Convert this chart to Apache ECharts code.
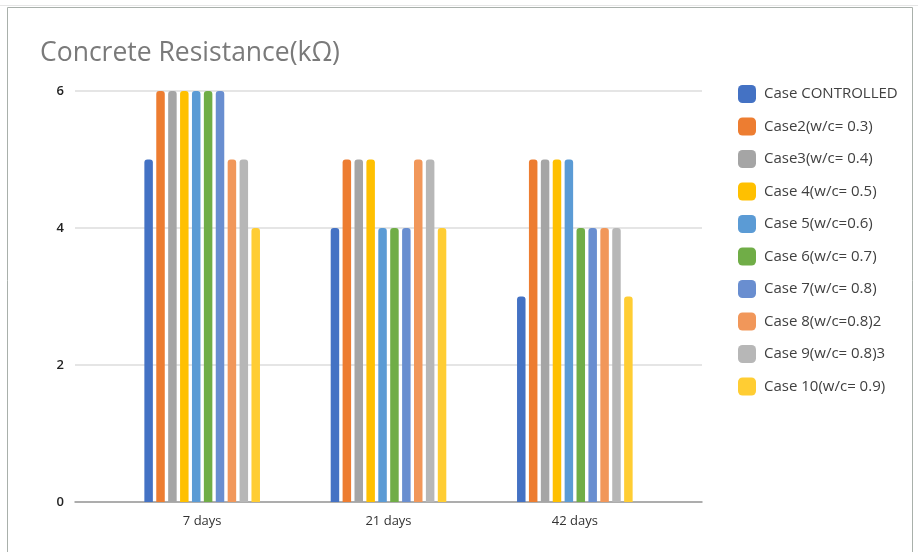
<!DOCTYPE html>
<html>
<head>
<meta charset="utf-8">
<script src="https://cdn.jsdelivr.net/npm/echarts@6/dist/echarts.min.js"></script>
<style>
  html, body { margin: 0; padding: 0; background: #ffffff; }
  #chart { width: 918px; height: 552px; }
</style>
</head>
<body>
<div id="chart"></div>
<script>
// Concrete resistance readings (kΩ) per curing age
const categories = ['7 days', '21 days', '42 days'];
const seriesNames = [
  'Case CONTROLLED',
  'Case2(w/c= 0.3)',
  'Case3(w/c= 0.4)',
  'Case 4(w/c= 0.5)',
  'Case 5(w/c=0.6)',
  'Case 6(w/c= 0.7)',
  'Case 7(w/c= 0.8)',
  'Case 8(w/c=0.8)2',
  'Case 9(w/c= 0.8)3',
  'Case 10(w/c= 0.9)'
];
const caseControlled = [5, 4, 3];
const case2 = [6, 5, 5];
const case3 = [6, 5, 5];
const case4 = [6, 5, 5];
const case5 = [6, 4, 5];
const case6 = [6, 4, 4];
const case7 = [6, 4, 4];
const case8 = [5, 5, 4];
const case9 = [5, 5, 4];
const case10 = [4, 4, 3];
const yTicks = [0, 2, 4, 6];

const seriesValues = [caseControlled, case2, case3, case4, case5, case6, case7, case8, case9, case10];
const palette = ['#4472C4', '#ED7D31', '#A5A5A5', '#FFC000', '#5B9BD5', '#70AD47',
                 '#698ED0', '#F1975A', '#B7B7B7', '#FFCD33'];

const chart = echarts.init(document.getElementById('chart'), null, { renderer: 'canvas' });
const font = '"Open Sans", "Noto Sans", sans-serif';

const option = {
  animation: false,
  color: palette,
  textStyle: { fontFamily: font },
  title: {
    text: 'Concrete Resistance(kΩ)',
    left: 35,
    top: 35,
    textStyle: { fontFamily: font, fontSize: 26.5, fontWeight: 'normal', color: '#7a7a7a' }
  },
  graphic: [
    { type: 'rect', shape: { x: 7.5, y: 7.5, width: 905, height: 560 },
      style: { fill: 'none', stroke: '#a9b0ab', lineWidth: 1 }, silent: true },
    { type: 'line', shape: { x1: 0, y1: 5.5, x2: 918, y2: 5.5 },
      style: { stroke: '#e6e6e6', lineWidth: 1 }, silent: true }
  ],
  legend: {
    orient: 'vertical',
    left: 733,
    top: 80,
    itemWidth: 18,
    itemHeight: 18,
    itemGap: 14.5,
    icon: 'roundRect',
    data: seriesNames,
    textStyle: { fontFamily: font, fontSize: 15, color: '#404040', padding: [0, 0, 0, 3] }
  },
  grid: [
    { left: 75, right: 216, top: 91, bottom: 50 },
    { left: 109, right: 250, top: 91, bottom: 50 }
  ],
  xAxis: [
    { type: 'category', gridIndex: 0, data: [''],
      axisLine: { show: true, lineStyle: { color: '#9a9a9a', width: 1.5 } },
      axisTick: { show: false }, axisLabel: { show: false }, splitLine: { show: false } },
    { type: 'category', gridIndex: 1, data: categories,
      axisLine: { show: false }, axisTick: { show: false },
      axisLabel: { fontFamily: font, fontSize: 13, color: '#333333', margin: 13 } }
  ],
  yAxis: [
    { type: 'value', gridIndex: 0, min: yTicks[0], max: yTicks[yTicks.length - 1], interval: 2,
      axisLine: { show: false }, axisTick: { show: false },
      axisLabel: { fontFamily: font, fontSize: 13, color: '#222222', margin: 11, fontWeight: 600 },
      splitLine: { lineStyle: { color: '#dcdcdc', width: 1.5 } } },
    { type: 'value', gridIndex: 1, min: yTicks[0], max: yTicks[yTicks.length - 1], interval: 2,
      show: false, splitLine: { show: false } }
  ],
  series: seriesNames.map((name, i) => ({
    name: name,
    type: 'bar',
    xAxisIndex: 1,
    yAxisIndex: 1,
    data: seriesValues[i],
    barWidth: 8.5,
    barGap: '40%',
    itemStyle: { color: palette[i], borderRadius: [3, 3, 0, 0] }
  }))
};

chart.setOption(option);
</script>
</body>
</html>
